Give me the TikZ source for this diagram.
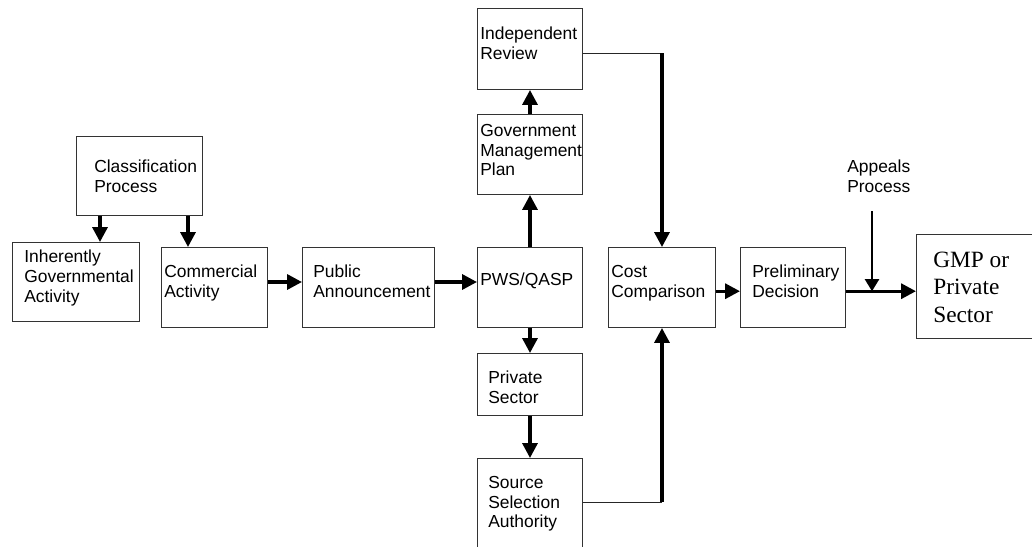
\documentclass[tikz,border=0pt]{standalone}
\usepackage{fontspec}
\setmainfont{Liberation Serif}
\setsansfont{Liberation Sans}
\usepackage{tikz}
\usetikzlibrary{positioning,calc,arrows.meta}

\tikzset{
	box/.style={rectangle, draw=black!80, line width=0.7pt, anchor=north west, inner sep=0pt},
	txt/.style={rectangle, anchor=north west, inner sep=0pt, align=left, font=\sffamily\fontsize{12.4}{14.2}\selectfont},
	flow/.style={line width=2.4pt, -{Triangle[length=0.37cm,width=0.37cm]}},
	link/.style={line width=0.7pt, black!85},
	appeal/.style={line width=1.5pt, -{Triangle[length=0.3cm,width=0.35cm]}}
}

\begin{document}
\begin{tikzpicture}
		\useasboundingbox (0,0) rectangle (25.8,-13.65);
		% boxes
		\node[box, minimum width=3.15cm, minimum height=1.975cm] (cls) at (1.9,-3.4) {};
		\node[box, minimum width=3.175cm, minimum height=1.975cm] (inh) at (0.3,-6.05) {};
		\node[box, minimum width=2.65cm, minimum height=2cm] (com) at (4.025,-6.175) {};
		\node[box, minimum width=3.3cm, minimum height=2cm] (pub) at (7.55,-6.175) {};
		\node[box, minimum width=2.625cm, minimum height=2cm] (pws) at (11.925,-6.175) {};
		\node[box, minimum width=2.625cm, minimum height=2cm] (gmp) at (11.925,-2.85) {};
		\node[box, minimum width=2.625cm, minimum height=2.025cm] (ir) at (11.925,-0.2) {};
		\node[box, minimum width=2.625cm, minimum height=1.55cm] (prv) at (11.925,-8.825) {};
		\node[box, minimum width=2.625cm, minimum height=2.6cm] (ssa) at (11.925,-11.45) {};
		\node[box, minimum width=2.675cm, minimum height=2cm] (cst) at (15.2,-6.175) {};
		\node[box, minimum width=2.625cm, minimum height=2cm] (pre) at (18.5,-6.175) {};
		\node[box, minimum width=3.5cm, minimum height=2.6cm] (fin) at (22.9,-5.85) {};
		% texts
		\node[txt, shift={(0.45,-0.59)}] (clsT) at (cls.north west) {Classification\\Process};
		\node[txt, shift={(0.3,-0.19)}] (inhT) at (inh.north west) {Inherently\\Governmental\\Activity};
		\node[txt, shift={(0.075,-0.44)}] (comT) at (com.north west) {Commercial\\Activity};
		\node[txt, shift={(0.275,-0.44)}] (pubT) at (pub.north west) {Public\\Announcement};
		\node[txt, shift={(0.075,-0.64)}] (pwsT) at (pws.north west) {PWS/QASP};
		\node[txt, shift={(0.075,-0.46)}] (irT) at (ir.north west) {Independent\\Review};
		\node[txt, shift={(0.075,-0.24)}] (gmpT) at (gmp.north west) {Government\\Management\\Plan};
		\node[txt, shift={(0.275,-0.44)}] (prvT) at (prv.north west) {Private\\Sector};
		\node[txt, shift={(0.275,-0.44)}] (ssaT) at (ssa.north west) {Source\\Selection\\Authority};
		\node[txt, shift={(0.075,-0.44)}] (cstT) at (cst.north west) {Cost\\Comparison};
		\node[txt, shift={(0.3,-0.44)}] (preT) at (pre.north west) {Preliminary\\Decision};
		\node[txt, font=\rmfamily\fontsize{16.6}{19.3}\selectfont, shift={(0.425,-0.45)}] (finT) at (fin.north west) {GMP or\\Private\\Sector};
		\node[txt] (app) at (21.175,-3.99) {Appeals\\Process};
		% connectors
		\coordinate (row) at (0,-7.05);
		\coordinate (row2) at (0,-7.28);
		\coordinate (apptop) at (21.8,-5.275);
		\draw[flow] ($(cls.south west)+(0.6,0)$) coordinate (c1) -- (c1 |- inh.north);
		\draw[flow] ($(cls.south west)+(2.8,0)$) coordinate (c2) -- (c2 |- com.north);
		\draw[flow] (com.east |- row) -- (pub.west |- row);
		\draw[flow] (pub.east |- row) -- (pws.west |- row);
		\draw[flow] (pws.north) -- (gmp.south);
		\draw[flow] (gmp.north) -- (ir.south);
		\draw[flow] (pws.south) -- (prv.north);
		\draw[flow] (prv.south) -- (ssa.north);
		\draw[link] ($(ir.north east)+(0,-1.125)$) coordinate (c3) -- (c3 -| cst.north);
		\draw[flow] (c3 -| cst.north) -- (cst.north);
		\draw[link] ($(ssa.north east)+(0,-1.1)$) coordinate (c4) -- (c4 -| cst.south);
		\draw[flow] (c4 -| cst.south) -- (cst.south);
		\draw[flow] (cst.east |- row2) -- (pre.west |- row2);
		\draw[flow] (pre.east |- row2) -- (fin.west |- row2);
		\draw[appeal] (apptop) -- (apptop |- row2);
	\end{tikzpicture}
\end{document}
